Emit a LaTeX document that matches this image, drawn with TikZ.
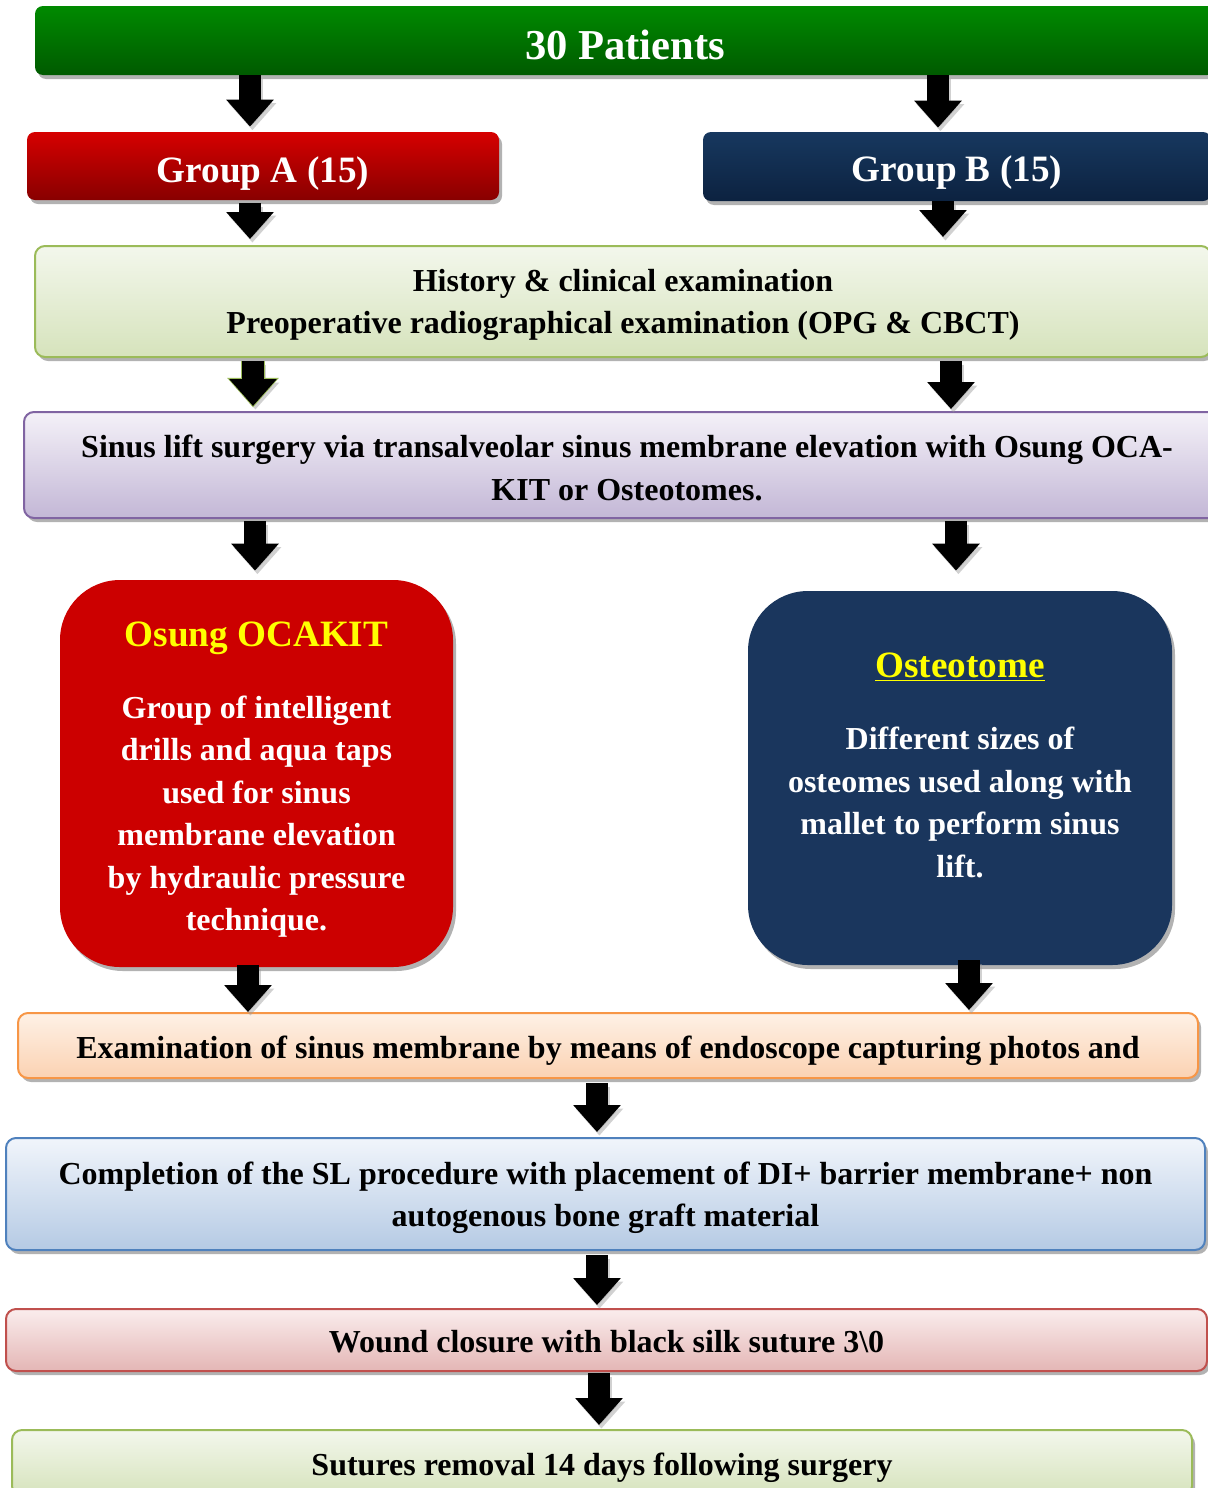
\documentclass[tikz,border=0pt]{standalone}
\usepackage{fontspec}
\setmainfont{Liberation Serif}
\usetikzlibrary{arrows.meta,shadows}

% colours taken from the chart
\definecolor{patTop}{HTML}{008A00}
\definecolor{patBot}{HTML}{005A00}
\definecolor{redTop}{HTML}{D60000}
\definecolor{redBot}{HTML}{880000}
\definecolor{navyTop}{HTML}{17385F}
\definecolor{navyBot}{HTML}{0C2240}
\definecolor{kitRed}{HTML}{CC0000}
\definecolor{osteoNavy}{HTML}{1A365D}
\definecolor{titleYellow}{HTML}{FFFF00}
\definecolor{histLine}{HTML}{9BBB59}
\definecolor{histTop}{HTML}{F3F7EC}
\definecolor{histBot}{HTML}{D6E3BC}
\definecolor{sinusLine}{HTML}{8064A2}
\definecolor{sinusTop}{HTML}{F4F1F8}
\definecolor{sinusBot}{HTML}{C3B7D6}
\definecolor{examLine}{HTML}{F79646}
\definecolor{examTop}{HTML}{FEF1E6}
\definecolor{examBot}{HTML}{FBD2B2}
\definecolor{complLine}{HTML}{4F81BD}
\definecolor{complTop}{HTML}{F1F5FB}
\definecolor{complBot}{HTML}{B5CAE4}
\definecolor{woundLine}{HTML}{C0504D}
\definecolor{woundTop}{HTML}{FAEDED}
\definecolor{woundBot}{HTML}{E4B6B5}

\newcommand{\bodyfont}{\fontsize{16}{21.25}\selectfont\bfseries}
\newcommand{\headfont}{\fontsize{18.6}{21.25}\selectfont\bfseries}

\tikzset {
  box shadow/.style = {
    drop shadow={shadow xshift=1.5pt, shadow yshift=-2pt, opacity=0.3, fill=black}
  },
  dark box/.style 2 args = {
    rounded corners=4pt,
    top color=#1,
    bottom color=#2,
    text=white,
    box shadow,
    inner sep=0pt,
    font=\headfont
  },
  step box/.style n args = {3}{
    rounded corners=5pt,
    draw=#1,
    line width=1pt,
    top color=#2,
    bottom color=#3,
    box shadow,
    align=center,
    inner sep=0pt,
    font=\bodyfont
  },
  method box/.style = {
    rounded corners=30pt,
    fill=#1,
    text=white,
    box shadow,
    align=center,
    inner sep=0pt,
    font=\bodyfont
  },
  block arrow/.style = {
    line width=11pt,
    -{Triangle[width=23pt,length=13.5pt]}
  },
  arrow shadow/.style = {
    black!40,
    opacity=0.45,
    transform canvas={shift={(1.2pt,-1.8pt)}}
  }
}

\begin{document}
\begin{tikzpicture}[x=0.5pt, y=-0.5pt]

\useasboundingbox (0,0) rectangle (1208,1488);
\clip (0,0) rectangle (1208,1488);

% --- Patients and groups ---
\node[dark box={patTop}{patBot}, font=\fontsize{21.3}{25}\selectfont\bfseries,
      minimum width=590pt, minimum height=34.5pt, text height=18.7pt, text depth=0pt]
      (patients) at (625,40.5) {30 Patients};
\node[dark box={redTop}{redBot}, minimum width=236pt, minimum height=34pt,
      text height=16pt, text depth=0pt]
      (grpA) at (263,166) {Group A (15)};
\node[dark box={navyTop}{navyBot}, minimum width=254pt, minimum height=34.5pt,
      text height=15pt, text depth=0pt]
      (grpB) at (957,166.5) {Group B (15)};

% --- Pre-operative steps ---
\node[step box={histLine}{histTop}{histBot}, minimum width=588pt, minimum height=55.5pt,
      text depth=0pt]
      (hist) at (623,301.5)
      {History \& clinical examination\\
       Preoperative radiographical examination (OPG \& CBCT)};
\node[step box={sinusLine}{sinusTop}{sinusBot}, minimum width=603pt, minimum height=53pt,
      text height=35.3pt, text depth=0pt]
      (sinus) at (627,465)
      {Sinus lift surgery via transalveolar sinus membrane elevation with Osung OCA-\\
       KIT or Osteotomes.};

% --- The two techniques ---
\node[method box=kitRed, minimum width=196.5pt, minimum height=193.5pt,
      text height=157pt, text depth=0pt]
      (ocakit) at (256.5,773.5)
      {{\headfont\color{titleYellow}Osung OCAKIT}\\[14.75pt]
       Group of intelligent\\
       drills and aqua taps\\
       used for sinus\\
       membrane elevation\\
       by hydraulic pressure\\
       technique.};
\node[method box=osteoNavy, minimum width=212pt, minimum height=187pt, text depth=13pt]
      (osteo) at (960,778)
      {{\headfont\color{titleYellow}\underline{Osteotome}}\\[14.75pt]
       Different sizes of\\
       osteomes used along with\\
       mallet to perform sinus\\
       lift.};

% --- Later steps ---
\node[step box={examLine}{examTop}{examBot}, minimum width=590pt, minimum height=32.5pt,
      text height=13pt, text depth=0pt]
      (exam) at (608,1045.5)
      {Examination of sinus membrane by means of endoscope capturing photos and};
\node[step box={complLine}{complTop}{complBot}, minimum width=599.5pt, minimum height=56pt,
      text depth=0pt]
      (compl) at (605.5,1194)
      {Completion of the SL procedure with placement of DI+ barrier membrane+ non\\
       autogenous bone graft material};
\node[step box={woundLine}{woundTop}{woundBot}, minimum width=600.5pt, minimum height=31pt,
      text height=12.8pt, text depth=0pt]
      (wound) at (606.5,1340)
      {Wound closure with black silk suture 3\textbackslash 0};
\node[step box={histLine}{histTop}{histBot}, minimum width=590pt, minimum height=33pt,
      text height=12pt, text depth=0pt]
      (sutures) at (602,1463)
      {Sutures removal 14 days following surgery};

% --- Block arrows (x, from, to, start shift, end shift) ---
\foreach \x/\a/\b/\s/\e in {250/patients/grpA/0/2.5, 938/patients/grpB/0/2,
                             250/grpA/hist/1.5/3, 943/grpB/hist/0/4,
                             253/hist/sinus/1.5/2.5, 951/hist/sinus/1.5/1,
                             255/sinus/ocakit/1/4.5, 956/sinus/osteo/1/10,
                             248/ocakit/exam/-1/0, 969/osteo/exam/-2.5/1,
                             597/exam/compl/2/2.5, 597/compl/wound/2/1.5,
                             599/wound/sutures/0.5/2}
{
  \draw[block arrow, arrow shadow, shorten <=\s pt, shorten >=\e pt] (\x,0 |- \a.south) -- (\x,0 |- \b.north);
  \draw[block arrow, shorten <=\s pt, shorten >=\e pt] (\x,0 |- \a.south) -- (\x,0 |- \b.north);
}

% green rim on the left arrow below the history box
\draw[block arrow, line width=12pt, histLine,
      -{Triangle[width=25pt,length=14.8pt]}, shorten <=1.5pt, shorten >=1.8pt]
      (253,0 |- hist.south) -- (253,0 |- sinus.north);
\draw[block arrow, shorten <=1.5pt, shorten >=2.5pt]
      (253,0 |- hist.south) -- (253,0 |- sinus.north);

\end{tikzpicture}
\end{document}
